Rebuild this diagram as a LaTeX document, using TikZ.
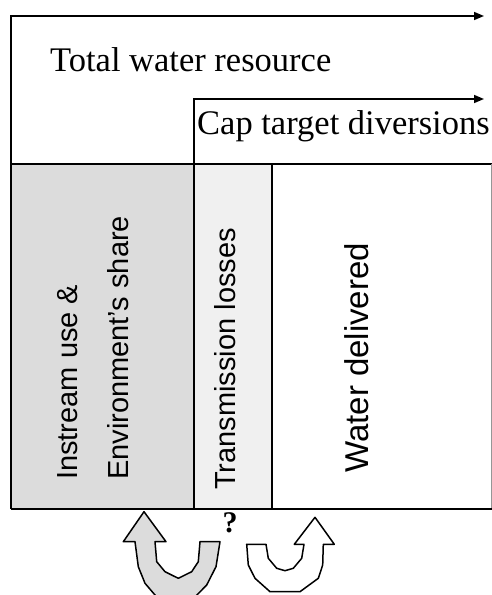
\documentclass[tikz,border=0pt]{standalone}
\usepackage{fontspec}
\setmainfont{Liberation Serif}
\setsansfont{Liberation Sans}
\usetikzlibrary{arrows.meta}
\definecolor{envgray}{RGB}{220,220,220}
\definecolor{lossgray}{RGB}{240,240,240}
\definecolor{edgegray}{RGB}{150,150,150}
\begin{document}
\begin{tikzpicture}[x=1pt,y=1pt,
  mainline/.style={line width=1.8pt,line cap=rect},
  flowarrow/.style={line width=1.6pt,-{Triangle[length=10pt,width=8pt]}},
  serif label/.style={font=\fontsize{34.5}{40}\selectfont,inner sep=0pt,anchor=base west},
  rot label/.style={font=\sffamily\fontsize{29}{34}\selectfont,inner sep=0pt,anchor=base west,rotate=90},
  uarrow/.style={draw=black,line width=1.5pt,line join=round}]
\useasboundingbox (0,0) rectangle (492,595);
% fills
\fill[envgray] (11,431) rectangle (194,86);
\fill[lossgray] (194,431) rectangle (272,86);
% coordinates
\coordinate (tl) at (11,579);
\coordinate (tr) at (484,579);
\coordinate (cl) at (194,496);
\coordinate (cr) at (484,496);
\coordinate (bl) at (11,86);
\coordinate (br) at (492,86);
% arrows at top
\draw[flowarrow] (bl) -- (tl) -- (tr);
\draw[flowarrow] (194,86) -- (cl) -- (cr);
% horizontal division
\draw[mainline] (11,431) -- (491,431);
\draw[mainline] (272,431) -- (272,86);
\draw[edgegray,line width=1pt] (491,431) -- (491,86);
\draw[line width=2.8pt] (bl) -- (br);
% texts
\node[serif label] (total) at (50,523) {Total water resource};
\node[serif label] (cap) at (197,460) {Cap target diversions};
\node[rot label] (instream) at (77,115) {Instream use \&};
\node[rot label] (env) at (128,115) {Environment’s share};
\node[rot label] (trans) at (235,105) {Transmission losses};
\node[rot label,font=\sffamily\fontsize{33}{38}\selectfont] (water) at (368,122) {Water delivered};
\node[font=\bfseries\fontsize{30}{32}\selectfont,inner sep=0pt] (q) at (230,72) {?};
% U-turn arrows
\draw[uarrow,fill=envgray] (144,83.3) -- (166,53.3) -- (155,53.3) -- (156.7,33.3) -- (165,23.3) -- (178.3,16.7) -- (191.7,23.3) -- (198.3,33.3) -- (200,53.3) -- (220,53.3) -- (216,28.3) -- (206.7,10) -- (195,-2) -- (156.7,-2) -- (145,11.7) -- (138.3,28.3) -- (135,53.3) -- (123.3,53.3) -- cycle;
\draw[uarrow,fill=white] (315,77.7) -- (334.3,50.7) -- (323.3,50.7) -- (322.7,30) -- (318.3,16.7) -- (300,3.3) -- (270,3.3) -- (255,16.7) -- (248.3,30) -- (246.7,50.7) -- (266,50.7) -- (268.3,36.7) -- (276.7,26.7) -- (285,24.3) -- (293.3,26.7) -- (301.7,36.7) -- (304,50.7) -- (294.3,50.7) -- cycle;
\end{tikzpicture}
\end{document}
